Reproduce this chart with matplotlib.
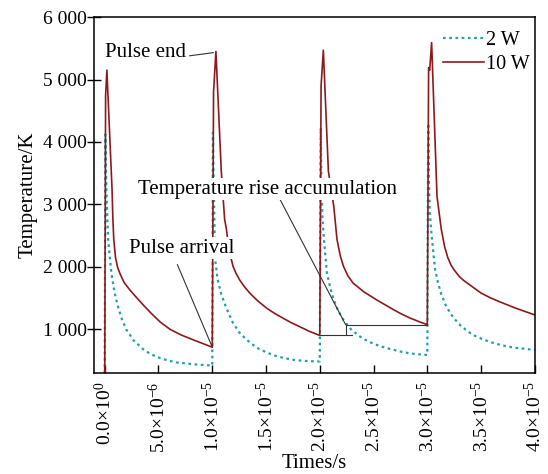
import matplotlib
matplotlib.use("Agg")
import matplotlib.pyplot as plt
import numpy as np

# time in microseconds, temperature in K
t_2w = [0, 0.06, 0.15, 0.31, 0.62, 0.9, 1.24, 1.6, 1.99, 2.7, 3.58, 4.3, 5.14, 5.9, 6.66, 7.5, 8.25, 9.1, 9.95,
        10.0, 10.06, 10.15, 10.22, 10.28, 10.5, 10.84, 11.31, 11.93, 12.6, 13.49, 14.2, 15.05, 15.8, 16.57,
        17.4, 18.16, 19.0, 19.96,
        20.0, 20.08, 20.16, 20.24, 20.34, 20.66, 21.0, 21.3, 21.7, 22.2, 22.9, 23.77, 24.5, 25.3, 26.1,
        26.9, 27.6, 28.4, 29.2, 29.98,
        30.0, 30.08, 30.16, 30.24, 30.35, 30.7, 31.0, 31.3, 31.7, 32.2, 32.9, 33.8, 34.5, 35.3, 36.1,
        36.9, 37.6, 38.4, 39.2, 40.0]
T_2w = [300, 4120, 3240, 2440, 1900, 1600, 1360, 1160, 1000, 820, 680, 600, 540, 500, 470, 455, 440, 430, 420,
        420, 4150, 3200, 2500, 2100, 1800, 1560, 1340, 1100, 930, 790, 700, 630, 580, 545,
        515, 500, 490, 485,
        485, 4225, 3300, 2800, 2540, 1900, 1650, 1470, 1300, 1150, 1000, 880, 805, 750, 705,
        670, 640, 615, 600, 590,
        590, 4300, 3350, 2850, 2600, 1980, 1740, 1560, 1390, 1240, 1090, 960, 890, 830, 785,
        745, 720, 700, 685, 670]

t_10w = [0, 0.08, 0.2, 0.68, 0.75, 0.84, 1.0, 1.2, 1.4, 1.8, 2.34, 3.0, 3.58, 4.3, 5.14, 6.07, 7.1, 8.25, 9.98,
         10.0, 10.12, 10.34, 10.84, 11.15, 11.31, 11.5, 11.7, 11.93, 12.2, 12.55, 13.0, 13.49, 14.2, 15.05,
         15.8, 16.57, 17.3, 18.16, 19.0, 19.96,
         20.0, 20.12, 20.33, 20.8, 21.3, 21.6, 21.9, 22.2, 22.6, 23.1, 24.1, 25.3, 26.1, 26.9, 27.6, 28.4,
         29.2, 29.98,
         30.0, 30.12, 30.22, 30.4, 30.9, 31.3, 31.6, 31.9, 32.2, 32.5, 33.0, 33.4, 34.2, 35.0, 35.8, 36.6,
         37.4, 38.2, 39.1, 40.0]
T_10w = [300, 4740, 5150, 3240, 2800, 2440, 2150, 1990, 1900, 1750, 1630, 1500, 1390, 1260, 1120, 1000, 910, 830, 715,
         715, 4800, 5450, 3530, 2760, 2610, 2350, 2170, 2010, 1900, 1790, 1680, 1580, 1460, 1340,
         1255, 1180, 1110, 1040, 970, 905,
         905, 4900, 5470, 3530, 2970, 2440, 2180, 2010, 1860, 1740, 1600, 1470, 1390, 1310, 1245, 1180,
         1125, 1075,
         1075, 5190, 5150, 5590, 3130, 2600, 2330, 2150, 2030, 1950, 1840, 1780, 1680, 1580, 1510, 1450,
         1395, 1340, 1285, 1230]

x_ticks = [0, 5e-6, 1e-5, 1.5e-5, 2e-5, 2.5e-5, 3e-5, 3.5e-5, 4e-5]
x_labels = [r'$\mathrm{0.0{\times}10^{0}}$', r'$\mathrm{5.0{\times}10^{-6}}$',
            r'$\mathrm{1.0{\times}10^{-5}}$', r'$\mathrm{1.5{\times}10^{-5}}$',
            r'$\mathrm{2.0{\times}10^{-5}}$', r'$\mathrm{2.5{\times}10^{-5}}$',
            r'$\mathrm{3.0{\times}10^{-5}}$', r'$\mathrm{3.5{\times}10^{-5}}$',
            r'$\mathrm{4.0{\times}10^{-5}}$']
y_ticks = [1000, 2000, 3000, 4000, 5000, 6000]
y_labels = ['1 000', '2 000', '3 000', '4 000', '5 000', '6 000']

plt.rcParams['font.family'] = ['Liberation Serif', 'DejaVu Serif']
plt.rcParams['mathtext.fontset'] = 'custom'
plt.rcParams['mathtext.rm'] = 'Liberation Serif'
plt.rcParams['mathtext.it'] = 'Liberation Serif:italic'

teal = '#24a0a0'
red = '#8c1a1c'

fig = plt.figure(figsize=(5.48, 4.74), dpi=100)
ax = fig.add_axes([0.1715, 0.213, 0.8045, 0.751])

ax.plot(np.array(t_2w) * 1e-6, T_2w, color=teal, lw=1.6, ls=(0, (1.2, 1.6)), label='2 W')
ax.plot(np.array(t_10w) * 1e-6, T_10w, color=red, lw=1.2, label='10 W')

ax.set_xlim(-1.0e-6, 4.0e-5)
ax.set_ylim(300, 6000)
ax.set_xticks(x_ticks)
ax.set_xticklabels(x_labels, rotation=90, fontsize=14)
ax.set_yticks(y_ticks)
ax.set_yticklabels(y_labels, fontsize=14)
ax.tick_params(axis='x', direction='in', length=6, width=1, pad=6)
ax.tick_params(axis='y', direction='inout', length=10, width=1, pad=0)
for s in ax.spines.values():
    s.set_linewidth(1.1)

ax.set_xlabel('Times/s', fontsize=15, labelpad=1)
ax.set_ylabel('Temperature/K', fontsize=15, labelpad=4)

# annotations
lc = '#333333'
ax.plot([7.9e-6, 10.1e-6], [5380, 5430], color=lc, lw=0.8)
ax.text(7.6e-6, 5430, 'Pulse end', fontsize=15, ha='right', va='center',
        bbox=dict(fc='white', ec='none', pad=1), zorder=5)

ax.plot([6.76e-6, 10.0e-6], [2035, 715], color=lc, lw=0.8)
ax.text(7.14e-6, 2300, 'Pulse arrival', fontsize=15, ha='center', va='center',
        bbox=dict(fc='white', ec='none', pad=1), zorder=5)

ax.plot([16.3e-6, 22.4e-6], [3080, 1075], color=lc, lw=0.8)
ax.plot([20.0e-6, 23.0e-6], [905, 905], color=lc, lw=0.8)
ax.plot([22.4e-6, 30.0e-6], [1075, 1075], color=lc, lw=0.8)
ax.plot([22.4e-6, 22.4e-6], [905, 1075], color=lc, lw=0.8)
ax.text(15.1e-6, 3240, 'Temperature rise accumulation', fontsize=15, ha='center', va='center',
        bbox=dict(fc='white', ec='none', pad=1), zorder=5)

ax.legend(loc='upper right', bbox_to_anchor=(1.006, 0.985), frameon=False, fontsize=14.5,
          handlelength=2.0, handletextpad=0.1, labelspacing=0.25, borderaxespad=0)

fig.savefig('out.png', dpi=100)
